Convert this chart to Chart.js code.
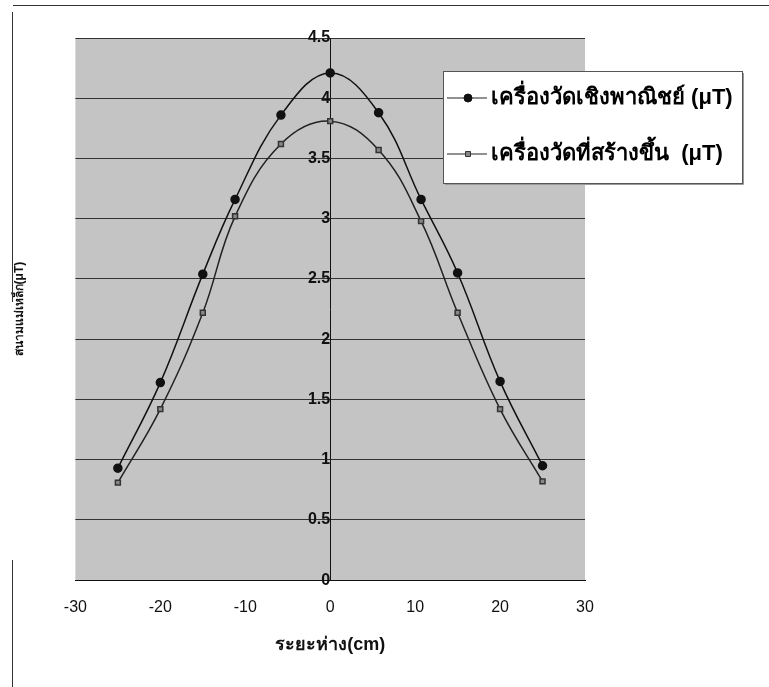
<!DOCTYPE html>
<html>
<head>
<meta charset="utf-8">
<script src="https://cdn.jsdelivr.net/npm/chart.js@4.4.1/dist/chart.umd.min.js"></script>
<style>
    html, body { margin: 0; padding: 0; background: #fff; }
    #wrap { position: relative; width: 769px; height: 687px; }
    .scanLine { position: absolute; background: #333; }
</style>
</head>
<body>
<div id="wrap">
    <canvas id="chart" width="769" height="687"></canvas>
    <div class="scanLine" style="left:13px; top:5px; width:756px; height:1px;"></div>
    <div class="scanLine" style="left:12px; top:12px; width:1px; height:290px;"></div>
    <div class="scanLine" style="left:12px; top:560px; width:1px; height:127px;"></div>
</div>
<script>
// datos
const distance = [-25, -20, -15, -11.2, -5.8, 0, 5.7, 10.7, 15, 20, 25];
const commercial = [0.93, 1.64, 2.54, 3.16, 3.86, 4.21, 3.88, 3.16, 2.55, 1.65, 0.95];
const built = [0.81, 1.42, 2.22, 3.02, 3.62, 3.81, 3.57, 2.98, 2.22, 1.42, 0.82];
const seriesLabels = ['เครื่องวัดเชิงพาณิชย์ (μT)', 'เครื่องวัดที่สร้างขึ้น  (μT)'];
const xTitle = 'ระยะห่าง(cm)';
const yTitle = 'สนามแม่เหล็ก(μT)';

const FONT = "'Liberation Sans', Arial, 'Noto Sans', 'DejaVu Sans', sans-serif";

function toPoints(xs, ys)
{
    return xs.map((x, i) => ({ x: x, y: ys[i] }));
}

// fondo gris del area de trazado
const plotBackground = {
    id: 'plotBackground',
    beforeDraw: (chart) =>
    {
        const { ctx, chartArea } = chart;
        ctx.save();
        ctx.fillStyle = '#c4c4c4';
        ctx.fillRect(chartArea.left, chartArea.top, chartArea.right - chartArea.left, chartArea.bottom - chartArea.top);
        ctx.restore();
    }
};

// leyenda en caja, como en Excel
const boxLegend = {
    id: 'boxLegend',
    afterDraw: (chart) =>
    {
        const ctx = chart.ctx;
        const x0 = 443, y0 = 71, w = 299, h = 112;
        ctx.save();
        ctx.fillStyle = '#fff';
        ctx.fillRect(x0, y0, w, h);
        ctx.strokeStyle = '#555';
        ctx.lineWidth = 1;
        ctx.strokeRect(x0 + 0.5, y0 + 0.5, w, h);
        ctx.strokeStyle = '#999';
        ctx.beginPath();
        ctx.moveTo(x0 + w + 1.5, y0 + 2);
        ctx.lineTo(x0 + w + 1.5, y0 + h + 1.5);
        ctx.lineTo(x0 + 2, y0 + h + 1.5);
        ctx.stroke();

        const rows = [y0 + 27, y0 + 83];
        chart.data.datasets.forEach((ds, i) =>
        {
            const y = rows[i];
            ctx.strokeStyle = '#222';
            ctx.lineWidth = 1;
            ctx.beginPath();
            ctx.moveTo(x0 + 4, y);
            ctx.lineTo(x0 + 44, y);
            ctx.stroke();
            ctx.fillStyle = ds.pointBackgroundColor;
            ctx.strokeStyle = ds.pointBorderColor;
            Chart.helpers.drawPoint(ctx, {
                pointStyle: ds.pointStyle,
                radius: ds.pointRadius,
                rotation: 0,
                borderWidth: 1
            }, x0 + 25, y);
            ctx.fillStyle = '#000';
            ctx.font = 'bold 22px ' + FONT;
            ctx.textBaseline = 'middle';
            ctx.fillText(ds.label, x0 + 48, y);
        });
        ctx.restore();
    }
};

new Chart(document.getElementById('chart'), {
    type: 'line',
    data: {
        datasets: [
            {
                label: seriesLabels[0],
                data: toPoints(distance, commercial),
                borderColor: '#111',
                borderWidth: 1.5,
                pointStyle: 'circle',
                pointRadius: 4,
                pointBackgroundColor: '#111',
                pointBorderColor: '#111',
                tension: 0.4
            },
            {
                label: seriesLabels[1],
                data: toPoints(distance, built),
                borderColor: '#222',
                borderWidth: 1.5,
                pointStyle: 'rect',
                pointRadius: 3.5,
                pointBackgroundColor: '#888',
                pointBorderColor: '#333',
                tension: 0.4
            }
        ]
    },
    options: {
        responsive: false,
        animation: false,
        layout: { padding: { left: 10, right: 184, top: 38, bottom: 27 } },
        plugins: {
            legend: { display: false },
            tooltip: { enabled: false }
        },
        scales: {
            x: {
                type: 'linear',
                min: -30,
                max: 30,
                ticks: { stepSize: 10, color: '#111', font: { family: FONT, size: 16 }, padding: 13 },
                grid: { display: false, drawTicks: true, tickLength: 5 },
                border: { display: true, color: '#111', width: 1 },
                title: { display: true, text: xTitle, color: '#111', font: { family: FONT, size: 18, weight: 'bold' }, padding: { top: 4 } }
            },
            y: {
                type: 'linear',
                position: { x: 0 },
                min: 0,
                max: 4.5,
                ticks: {
                    stepSize: 0.5,
                    color: '#111',
                    font: { family: FONT, size: 16, weight: 'bold' },
                    padding: 2,
                    callback: (v) => String(v)
                },
                grid: { color: '#333', lineWidth: 1, tickLength: 6, drawTicks: true },
                border: { display: true, color: '#111', width: 1 }
            },
            yTitle: {
                type: 'linear',
                position: 'left',
                min: 0,
                max: 4.5,
                ticks: { display: false },
                grid: { display: false, drawTicks: false },
                border: { display: false },
                title: { display: true, text: yTitle, color: '#111', font: { family: FONT, size: 12, weight: 'bold' }, padding: { top: 2, bottom: 49 } }
            }
        }
    },
    plugins: [plotBackground, boxLegend]
});
</script>
</body>
</html>
